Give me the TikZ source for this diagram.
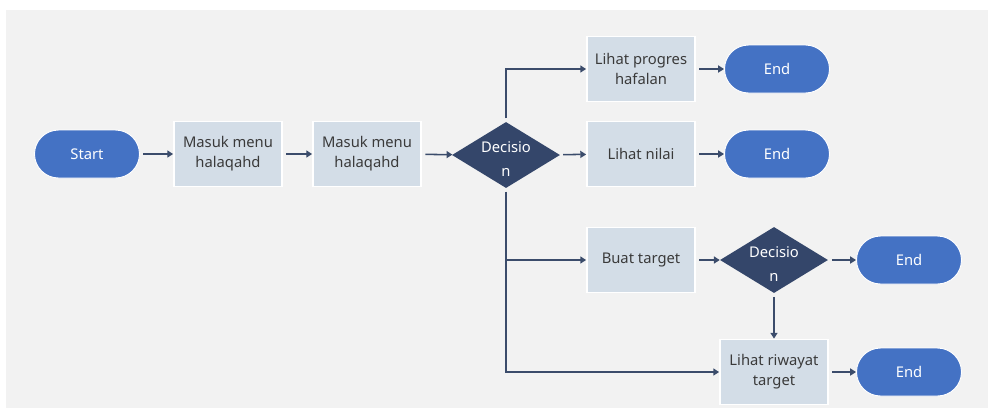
\documentclass[tikz,border=0pt]{standalone}
\usepackage{fontspec}
\setmainfont{Noto Sans}
\usetikzlibrary{arrows.meta}
\usetikzlibrary{shapes.geometric}
\definecolor{bgpaper}{HTML}{F2F2F2}
\definecolor{pillblue}{HTML}{4472C4}
\definecolor{boxfill}{HTML}{D3DDE7}
\definecolor{decfill}{HTML}{34466A}
\definecolor{linkcol}{HTML}{3B4C6B}
\definecolor{txtcol}{HTML}{3A3A3A}
\newcommand{\dectext}[1]{\makebox[0pt]{\smash{\raisebox{-2.7mm}{\begin{tabular}{@{}c@{}}#1\end{tabular}}}}}

\begin{document}
\begin{tikzpicture}[x=.03cm,y=-.03cm]%
                    \useasboundingbox (0,0) rectangle (988,410); %%
                    \fill[bgpaper] (6,10) rectangle (988,408); %%
                    \tikzstyle{terminal}=[draw=white,line width=.8pt,fill=pillblue,rounded corners=.72cm,minimum width=3.15cm,minimum height=1.44cm,text=white]
                    \tikzstyle{process}=[draw=white,line width=1.5pt,fill=boxfill,minimum width=3.24cm,minimum height=1.95cm,text=txtcol,align=center]
                    \tikzstyle{decision}=[diamond,fill=decfill,minimum width=3.24cm,minimum height=1.98cm,inner sep=0pt,text=white]
                    \tikzstyle{link}=[draw=linkcol,line width=1.3pt,-{Triangle[length=5pt,width=6pt]},shorten <=3pt]
                    \begin{scope}[font=\fontsize{12.6}{17}\selectfont]
                        \node[terminal] (start) at (87,154) {Start}; %%
                        \node[process] (menuA) at (228,154) {Masuk menu\\halaqahd}; %%
                        \node[process] (menuB) at (367,154) {Masuk menu\\halaqahd}; %%
                        \node[decision] (decA) at (506,155) {\dectext{Decisio\\[3pt]n}}; %%
                        \node[process] (progres) at (641,69) {Lihat progres\\hafalan}; %%
                        \node[process] (nilai) at (641,154) {Lihat nilai}; %%
                        \node[process] (target) at (641,260) {Buat target}; %%
                        \node[decision] (decB) at (774,260) {\dectext{Decisio\\[3pt]n}}; %%
                        \node[process] (riwayat) at (774,372) {Lihat riwayat\\target}; %%
                        \node[terminal] (endA) at (777,69) {End}; %%
                        \node[terminal] (endB) at (777,154) {End}; %%
                        \node[terminal] (endC) at (909,260) {End}; %%
                        \node[terminal] (endD) at (909,372) {End}; %%
                    \end{scope}
                        \draw[link] (start)--(menuA); %%
                        \draw[link] (menuA)--(menuB); %%
                        \draw[link] (menuB)--(decA); %%
                        \draw[link] (decA.north) |- (progres.west); %%
                        \draw[link] (decA)--(nilai); %%
                        \draw[link] (decA.south) |- (target.west); %%
                        \draw[link] (decA.south) |- (riwayat.west); %%
                        \draw[link] (progres)--(endA); %%
                        \draw[link] (nilai)--(endB); %%
                        \draw[link] (target)--(decB); %%
                        \draw[link] (decB)--(endC); %%
                        \draw[link] (decB)--(riwayat); %%
                        \draw[link] (riwayat)--(endD); %%
                    \end{tikzpicture}
\end{document}
